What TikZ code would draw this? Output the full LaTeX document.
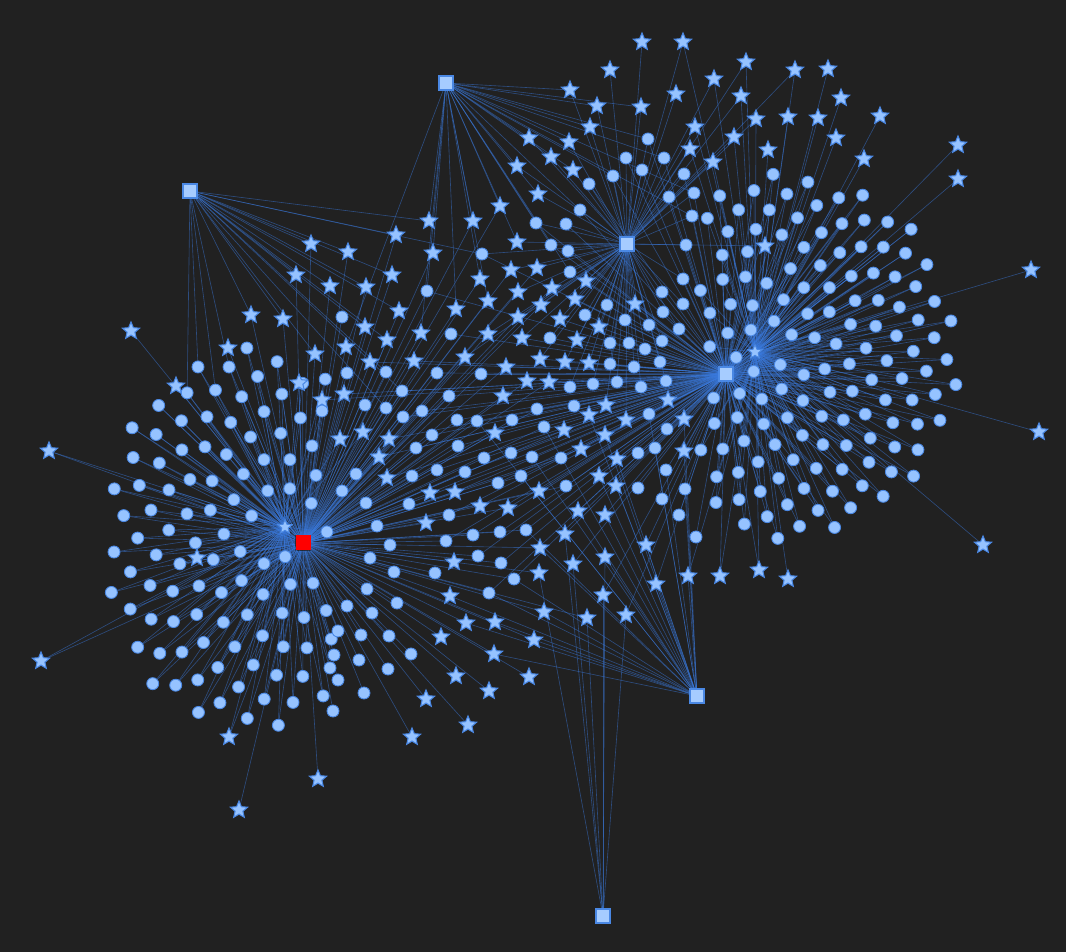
\documentclass[tikz,border=0pt]{standalone}
\usetikzlibrary{shapes.geometric}
\definecolor{bgdark}{RGB}{33,33,33}
\definecolor{nodefill}{RGB}{150,195,255}
\definecolor{nodeline}{RGB}{74,136,228}
\definecolor{wire}{RGB}{58,122,222}
\pgfdeclarelayer{back}
\pgfdeclarelayer{wires}
\pgfsetlayers{back,wires,main}

% sunflower spots of the two big clusters
\newcommand\leftspot[1]{%
  \pgfmathsetmacro\rad{sqrt(#1/125)}%
  \pgfmathsetmacro\ang{360*(#1*0.381966-floor(#1*0.381966))}%
  \pgfmathsetmacro\px{250+148*\rad*cos(\ang)}%
  \pgfmathsetmacro\py{540+192*\rad*sin(\ang)}%
  \pgfmathsetmacro\ok{and(\px<332,and(veclen(\px-285,\py-527)>17,and(veclen(\px-303,\py-543)>17,veclen(\px-197,\py-558)>15)))}}
\newcommand\rightspot[1]{%
  \pgfmathsetmacro\rad{sqrt(#1/165)}%
  \pgfmathsetmacro\ang{360*(#1*0.381966-floor(#1*0.381966))}%
  \pgfmathsetmacro\px{790+168*\rad*cos(\ang)}%
  \pgfmathsetmacro\py{355+185*\rad*sin(\ang)}%
  \pgfmathsetmacro\ok{and(\px>700,and(veclen(\px-755,\py-352)>17,and(veclen(\px-726,\py-374)>18,veclen(\px-765,\py-246)>15)))}}

\def\midspots{342/317, 427/291, 482/254, 451/334, 347/373, 386/372,
  437/373, 481/374, 402/391, 449/396, 365/405, 386/408, 422/411, 403/417, 457/420,
  477/421, 512/420, 537/409, 544/427, 432/435, 416/448, 458/446, 484/458, 511/453,
  532/457, 561/458, 550/338, 536/223, 566/224, 580/210, 589/184, 551/245, 568/251,
  570/272, 585/315, 607/305, 625/320, 649/325, 662/292, 663/312, 679/329, 610/343,
  629/343, 645/349, 662/341, 610/364, 634/367, 660/362, 570/387, 593/384, 617/382,
  641/387, 666/381, 574/406, 649/414, 667/429, 638/453, 655/448, 669/197, 692/216,
  683/279, 683/304, 686/245, 648/139, 626/158, 664/158, 642/170, 613/176, 684/174,
  694/193, 356/474, 412/476, 437/470, 465/472, 498/483, 521/476, 566/486, 638/488,
  666/470, 662/499, 679/515, 685/489, 696/537, 342/491, 366/503, 409/504, 449/515,
  377/526, 473/535, 500/532, 526/530, 446/541, 390/545, 370/558, 478/556, 501/563,
  514/579, 394/572, 435/573, 489/593, 367/589, 397/603, 347/606, 372/613, 338/631,
  361/635, 389/636, 411/654, 334/655, 359/660, 388/669, 338/680, 364/693, 333/711}

\def\starspots{642/42/HT/HT, 683/42/HT/HRs, 610/70/HT/HT,
  746/62/HRs/HT, 795/70/HRs/HT, 828/69/HRs/HRs, 714/79/HT/HRs, 570/90/P1/HT,
  676/94/HT/HT, 741/96/HRs/HT, 841/98/HRs/HRs, 597/106/P1/HT, 641/107/HT/P1,
  880/116/HRs/HRs, 756/119/HRs/HT, 788/117/HRs/HRs, 818/118/HRs/HRs, 590/127/HT/P1,
  695/127/HT/HRs, 734/137/HRs/HT, 529/138/P1/HT, 836/138/HRs/HRs, 958/145/HRs/HRs,
  569/142/HT/P1, 690/149/HT/HRs, 768/150/HRs/HRs, 551/157/HT/P1, 713/162/HT/HRs,
  864/159/HRs/HRs, 517/166/P1/HT, 573/170/HT/P1, 958/179/HRs/HRs, 538/194/HT/P1,
  500/206/P1/HL, 429/221/P1/P2, 473/221/P1/HL, 396/235/P2/HL, 311/244/P2/HL,
  348/252/P2/HL, 433/253/P1/HL, 517/242/HT/P1, 765/246/HRs/HT, 296/275/P2/HL,
  392/275/HL/P2, 366/287/HL/P2, 330/286/HL/P2, 511/270/HT/HL, 480/279/P1/HL,
  537/268/HT/HL, 586/281/HT/HR, 552/288/HT/HL, 518/292/HT/HL, 575/299/HT/HR,
  488/301/P1/HL, 456/309/HL/P1, 399/311/HL/P2, 541/305/HT/HL, 635/304/HT/HR,
  518/317/HT/HL, 560/319/HT/HR, 599/327/HT/HR, 251/315/HL/P2, 283/319/HL/P2,
  131/331/HL/HL, 228/348/HL/HL, 315/354/HL/P2, 346/347/HL/P1, 365/327/HL/P2,
  387/340/HL/P2, 421/333/HL/P1, 488/334/HL/HT, 522/338/HT/HR, 577/340/HT/HR,
  176/386/HL/HL, 299/383/HLs/HL, 322/400/HL/HR, 344/394/HL/HR, 370/362/HL/HR,
  414/361/HL/HR, 465/357/HL/HT, 506/367/HR/HL, 540/359/HT/HR, 565/362/HR/HT,
  589/363/HR/HT, 527/381/HR/HL, 549/382/HR/HL, 503/396/HR/HL, 606/405/HR/HT,
  589/415/HR/P3, 668/400/HR/HRs, 564/430/HR/HL, 495/433/HL/HR, 605/435/HR/P3,
  626/420/HR/HT, 684/419/HR/P3, 684/451/HR/P3, 363/432/HL/HLs, 389/439/HL/HR,
  340/439/HL/HLs, 379/457/HL/HR, 581/449/HR/HL, 617/459/HR/P3, 49/451/HLs/HL,
  387/478/HL/HR, 599/476/HR/P3, 616/486/HR/P3, 430/493/HL/HR, 455/492/HL/HR,
  539/491/HR/HL, 480/506/HL/HR, 508/508/HL/HR, 578/511/HR/P3, 605/515/HR/P3,
  426/523/HL/HL, 565/534/HR/P4, 540/548/HL/P3, 646/545/HR/P3, 454/562/HL/HL,
  573/564/P4/HR, 605/557/P3/P4, 539/573/P4/HL, 656/584/HR/P3, 688/576/HRs/P3,
  720/576/HRs/HR, 759/570/HRs/HR, 788/579/HRs/HRs, 450/596/HL/P3, 603/595/P4/HR,
  587/618/P4/HL, 626/615/P4/HR, 544/612/HL/P3, 466/623/HL/P3, 495/622/HL/P3,
  441/637/HL/HL, 534/640/HL/P3, 494/654/HL/P3, 456/676/HL/HL, 529/677/HL/HL,
  489/691/HL/HL, 426/699/HL/HL, 468/725/HL/HL, 412/737/HL/HL, 197/558/HLs/HL,
  41/661/HL/HLs, 229/737/HL/HLs, 318/779/HL/HL, 239/810/HL/HL, 1031/270/HRs/HRs,
  1039/432/HRs/HRs, 983/545/HRs/HRs}

\begin{document}
\begin{tikzpicture}[x=0.02cm,y=-0.02cm]

  \tikzstyle{dot}=[circle,fill=nodefill,draw=nodeline,line width=0.5pt,inner sep=0pt,minimum size=0.24cm]
  \tikzstyle{starn}=[star,star points=5,star point ratio=2.2,fill=nodefill,draw=nodeline,line width=0.6pt,inner sep=0pt,minimum size=0.36cm]
  \tikzstyle{sq}=[rectangle,fill=nodefill!85!white,draw=nodeline,line width=0.9pt,inner sep=0pt,minimum size=0.28cm]
  \tikzstyle{redsq}=[rectangle,fill=red,inner sep=0pt,minimum size=0.3cm]
  \tikzstyle{link}=[draw=wire,line width=0.35pt,opacity=0.5]

  \begin{pgfonlayer}{back}
    \fill[bgdark] (0,0) rectangle (1066,952);
  \end{pgfonlayer}
  \useasboundingbox (0,0) rectangle (1066,952);

  % hubs
  \node[redsq] (HL) at (303,543) {};
  \node[starn,minimum size=0.3cm] (HLs) at (285,527) {};
  \node[sq] (HR) at (726,374) {};
  \node[starn,minimum size=0.3cm] (HRs) at (755,352) {};
  \node[sq] (HT) at (627,244) {};
  \node[sq] (P1) at (446,83) {};
  \node[sq] (P2) at (190,191) {};
  \node[sq] (P3) at (697,696) {};
  \node[sq] (P4) at (603,916) {};

  % circles
  \foreach \i in {1,...,125}{
    \leftspot{\i}
    \ifdim\ok pt>0.5pt \node[dot] (L\i) at (\px,\py) {}; \fi
  }
  \foreach \i in {1,...,165}{
    \rightspot{\i}
    \ifdim\ok pt>0.5pt \node[dot] (R\i) at (\px,\py) {}; \fi
  }
  \foreach \x/\y [count=\k] in \midspots {
    \node[dot] (M\k) at (\x,\y) {};
  }

  % stars
  \foreach \x/\y/\a/\b [count=\k] in \starspots {
    \node[starn] (s\k) at (\x,\y) {};
  }

  % all the links, under the nodes
  \begin{pgfonlayer}{wires}
    \foreach \i in {1,...,125}{
      \leftspot{\i}
      \ifdim\ok pt>0.5pt
        \draw[link] (HLs) -- (L\i);
        \draw[link] (HL) -- (L\i);
        \pgfmathsetmacro\ok{and(\py<395,\px<230)}
        \ifdim\ok pt>0.5pt \draw[link] (P2) -- (L\i); \fi
      \fi
    }
    \foreach \i in {1,...,165}{
      \rightspot{\i}
      \ifdim\ok pt>0.5pt
        \draw[link] (HRs) -- (R\i);
        \draw[link] (HR) -- (R\i);
      \fi
    }
    \foreach \x/\y [count=\k] in \midspots {
      \pgfmathsetmacro\ok{veclen(\x-303,\y-543)<300}
      \ifdim\ok pt>0.5pt \draw[link] (HL) -- (M\k); \fi
      \pgfmathsetmacro\ok{veclen(\x-726,\y-374)<330}
      \ifdim\ok pt>0.5pt \draw[link] (HR) -- (M\k); \fi
      \pgfmathsetmacro\ok{veclen(\x-627,\y-244)<170}
      \ifdim\ok pt>0.5pt \draw[link] (HT) -- (M\k); \fi
      \pgfmathsetmacro\ok{and(\y<300,mod(\k,2)==0)}
      \ifdim\ok pt>0.5pt \draw[link] (P1) -- (M\k); \fi
      \pgfmathsetmacro\ok{and(\y<420,and(\x<520,mod(\k,3)==0))}
      \ifdim\ok pt>0.5pt \draw[link] (P2) -- (M\k); \fi
      \pgfmathsetmacro\ok{and(\y>400,and(\x>470,mod(\k,3)==1))}
      \ifdim\ok pt>0.5pt \draw[link] (P3) -- (M\k); \fi
    }
    \foreach \x/\y/\a/\b [count=\k] in \starspots {
      \draw[link] (\a) -- (s\k);
      \ifx\a\b\else \draw[link] (\b) -- (s\k); \fi
    }
  \end{pgfonlayer}

\end{tikzpicture}
\end{document}
